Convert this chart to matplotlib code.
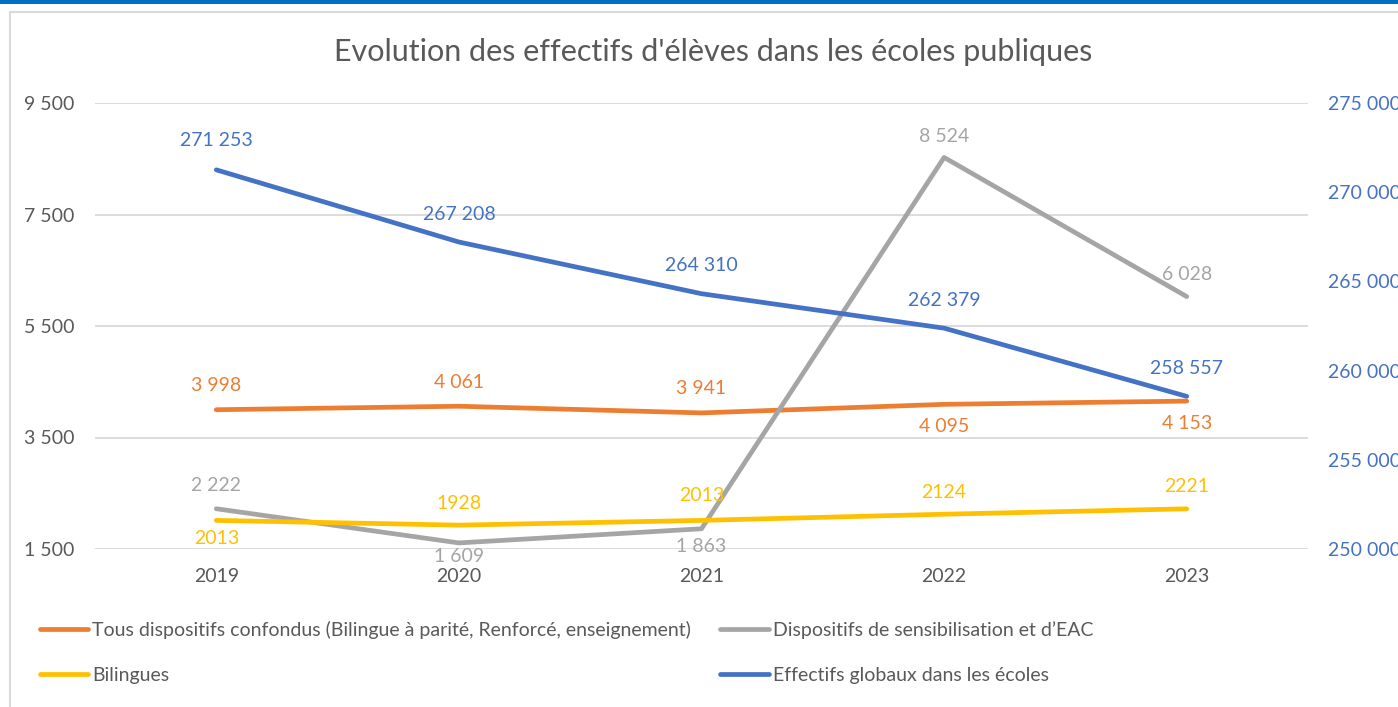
import matplotlib.pyplot as plt
from matplotlib.patches import Rectangle

plt.rcParams["font.family"] = ["Lato", "DejaVu Sans"]

years = ["2019", "2020", "2021", "2022", "2023"]
tous = [3998, 4061, 3941, 4095, 4153]
sensib = [2222, 1609, 1863, 8524, 6028]
bilingues = [2013, 1928, 2013, 2124, 2221]
globaux = [271253, 267208, 264310, 262379, 258557]

names = [
    "Tous dispositifs confondus (Bilingue à parité, Renforcé, enseignement)",
    "Dispositifs de sensibilisation et d\u2019EAC",
    "Bilingues",
    "Effectifs globaux dans les écoles",
]

ORANGE = "#ED7D31"
GRAY = "#A5A5A5"
YELLOW = "#FFC000"
BLUE = "#4472C4"
TXT = "#595959"
FS = 14


def fmt(v):
    return f"{v:,}".replace(",", " ")


W, H = 1398, 707
fig = plt.figure(figsize=(W / 100, H / 100), dpi=100)
fig.patch.set_facecolor("white")

# chart frame and top band
fig.patches.append(Rectangle((10 / W, -0.05), 1.1, (H - 12) / H + 0.05,
                             transform=fig.transFigure, fill=False,
                             edgecolor="#D9D9D9", lw=1.5))
fig.patches.append(Rectangle((0, (H - 4) / H), 1, 4 / H, transform=fig.transFigure,
                             color="#0070C0", lw=0))

ax = fig.add_axes([95 / W, 158 / H, 1213 / W, 446 / H])
ax2 = ax.twinx()

x = list(range(len(years)))
lw = 3.4
ax.plot(x, tous, color=ORANGE, lw=lw, solid_capstyle="round", label=names[0])
ax.plot(x, sensib, color=GRAY, lw=lw, solid_capstyle="round", label=names[1])
ax.plot(x, bilingues, color=YELLOW, lw=lw, solid_capstyle="round", label=names[2])
ax2.plot(x, globaux, color=BLUE, lw=lw, solid_capstyle="round", label=names[3])

ax.set_xlim(-0.5, 4.5)
ax.set_ylim(1500, 9500)
ax.set_yticks([1500, 3500, 5500, 7500, 9500])
ax.set_yticklabels([fmt(v) for v in [1500, 3500, 5500, 7500, 9500]])
ax2.set_ylim(250000, 275000)
ax2.set_yticks(range(250000, 275001, 5000))
ax2.set_yticklabels([fmt(v) for v in range(250000, 275001, 5000)])
ax.set_xticks(x)
ax.set_xticklabels(years)

ax.grid(axis="y", color="#D9D9D9", lw=1.3)
ax.set_axisbelow(True)
for a in (ax, ax2):
    for s in a.spines.values():
        s.set_visible(False)
ax.tick_params(axis="y", length=0, pad=14.5, labelsize=FS, labelcolor=TXT)
ax.tick_params(axis="x", length=0, pad=14, labelsize=FS, labelcolor=TXT)
ax2.tick_params(axis="y", length=0, pad=14.5, labelsize=FS, labelcolor=BLUE)

# data labels: vertical offsets in pixels (positive = above)
def labels(a, vals, color, offs, plain=False):
    for i, v in enumerate(vals):
        a.annotate(str(v) if plain else fmt(v), (i, v), xytext=(0, offs[i] * 0.72),
                   textcoords="offset points", ha="center", va="center",
                   fontsize=FS, color=color)

labels(ax, tous, ORANGE, [24, 24, 24, -22, -22])
labels(ax, sensib, GRAY, [23, -14, -18, 21, 22])
labels(ax, bilingues, YELLOW, [-18, 22, 25, 22, 22], plain=True)
labels(ax2, globaux, BLUE, [29, 28, 28, 28, 28])

fig.text(713 / W, (H - 52) / H, "Evolution des effectifs d'élèves dans les écoles publiques",
         ha="center", va="center", fontsize=22, color=TXT)

h1, l1 = ax.get_legend_handles_labels()
h2, l2 = ax2.get_legend_handles_labels()
handles = [h1[0], h1[2], h1[1], h2[0]]
labs = [l1[0], l1[2], l1[1], l2[0]]
leg = fig.legend(handles, labs, ncol=2, loc="upper left", bbox_to_anchor=(22 / W, (H - 603) / H),
                 frameon=False, fontsize=FS, labelcolor=TXT, handlelength=2.5,
                 handletextpad=0.2, columnspacing=1.5, labelspacing=1.45)

fig.savefig("out.png", dpi=100)
